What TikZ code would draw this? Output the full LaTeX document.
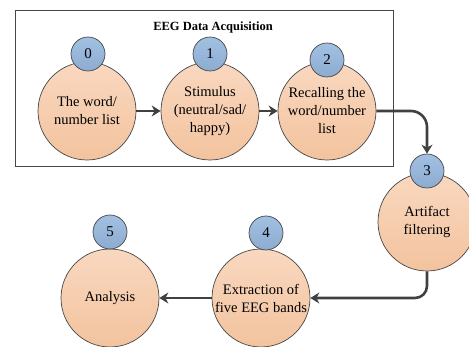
\documentclass[tikz,border=0pt]{standalone}
\usepackage{fontspec}
\setmainfont{Liberation Serif}
\usetikzlibrary{arrows.meta}
\definecolor{peachtop}{RGB}{249,216,192}
\definecolor{peachbot}{RGB}{243,195,158}
\definecolor{bluetop}{RGB}{162,192,226}
\definecolor{bluebot}{RGB}{140,172,208}
\definecolor{edge}{RGB}{70,70,70}
\definecolor{arr}{RGB}{64,64,64}
\tikzset{
  big/.style={circle, draw=edge, line width=0.7pt, minimum size=98pt, inner sep=0pt,
    top color=peachtop, bottom color=peachbot, align=center,
    font=\fontsize{14.5}{18}\selectfont},
  num/.style={circle, draw=edge, line width=0.7pt, minimum size=34pt, inner sep=0pt,
    top color=bluetop, bottom color=bluebot, font=\fontsize{15}{16}\selectfont},
  flow/.style={draw=arr, line width=2.6pt, -{Stealth[length=9pt,width=11pt]}},
  grp/.style={draw=edge, line width=0.8pt}
}
\begin{document}
\begin{tikzpicture}[x=1pt,y=-1pt]
\useasboundingbox (0,0) rectangle (469,347);
\node[grp, minimum width=378pt, minimum height=156pt, inner sep=0pt] (box) at (204,88) {};
\node[font=\bfseries\fontsize{12.5}{14}\selectfont] (title) at (213,27) {EEG Data Acquisition};
\node[big] (c0) at (87,111) {The word/\\number list};
\node[big] (c1) at (210,111) {Stimulus\\(neutral/sad/\\happy)};
\node[big] (c2) at (327,111) {Recalling the\\word/number\\list};
\node[big] (c3) at (427,222) {Artifact\\filtering};
\node[big] (c4) at (261,298) {Extraction of\\five EEG bands};
\node[big] (c5) at (110,298) {Analysis};
\node[num] (s0) at (88,54) {0};
\node[num] (s1) at (210,54) {1};
\node[num] (s2) at (327,60) {2};
\node[num] (s3) at (427,171) {3};
\node[num] (s4) at (266,233) {4};
\node[num] (s5) at (110,232) {5};
\draw[flow] (c0.east) -- (c1.west);
\draw[flow] (c1.east) -- (c2.west);
\draw[flow, rounded corners=16pt] (c2.east) -| (s3.north);
\draw[flow, rounded corners=12pt] (c3.south) |- (c4.east);
\draw[flow] (c4.west) -- (c5.east);
\end{tikzpicture}
\end{document}
